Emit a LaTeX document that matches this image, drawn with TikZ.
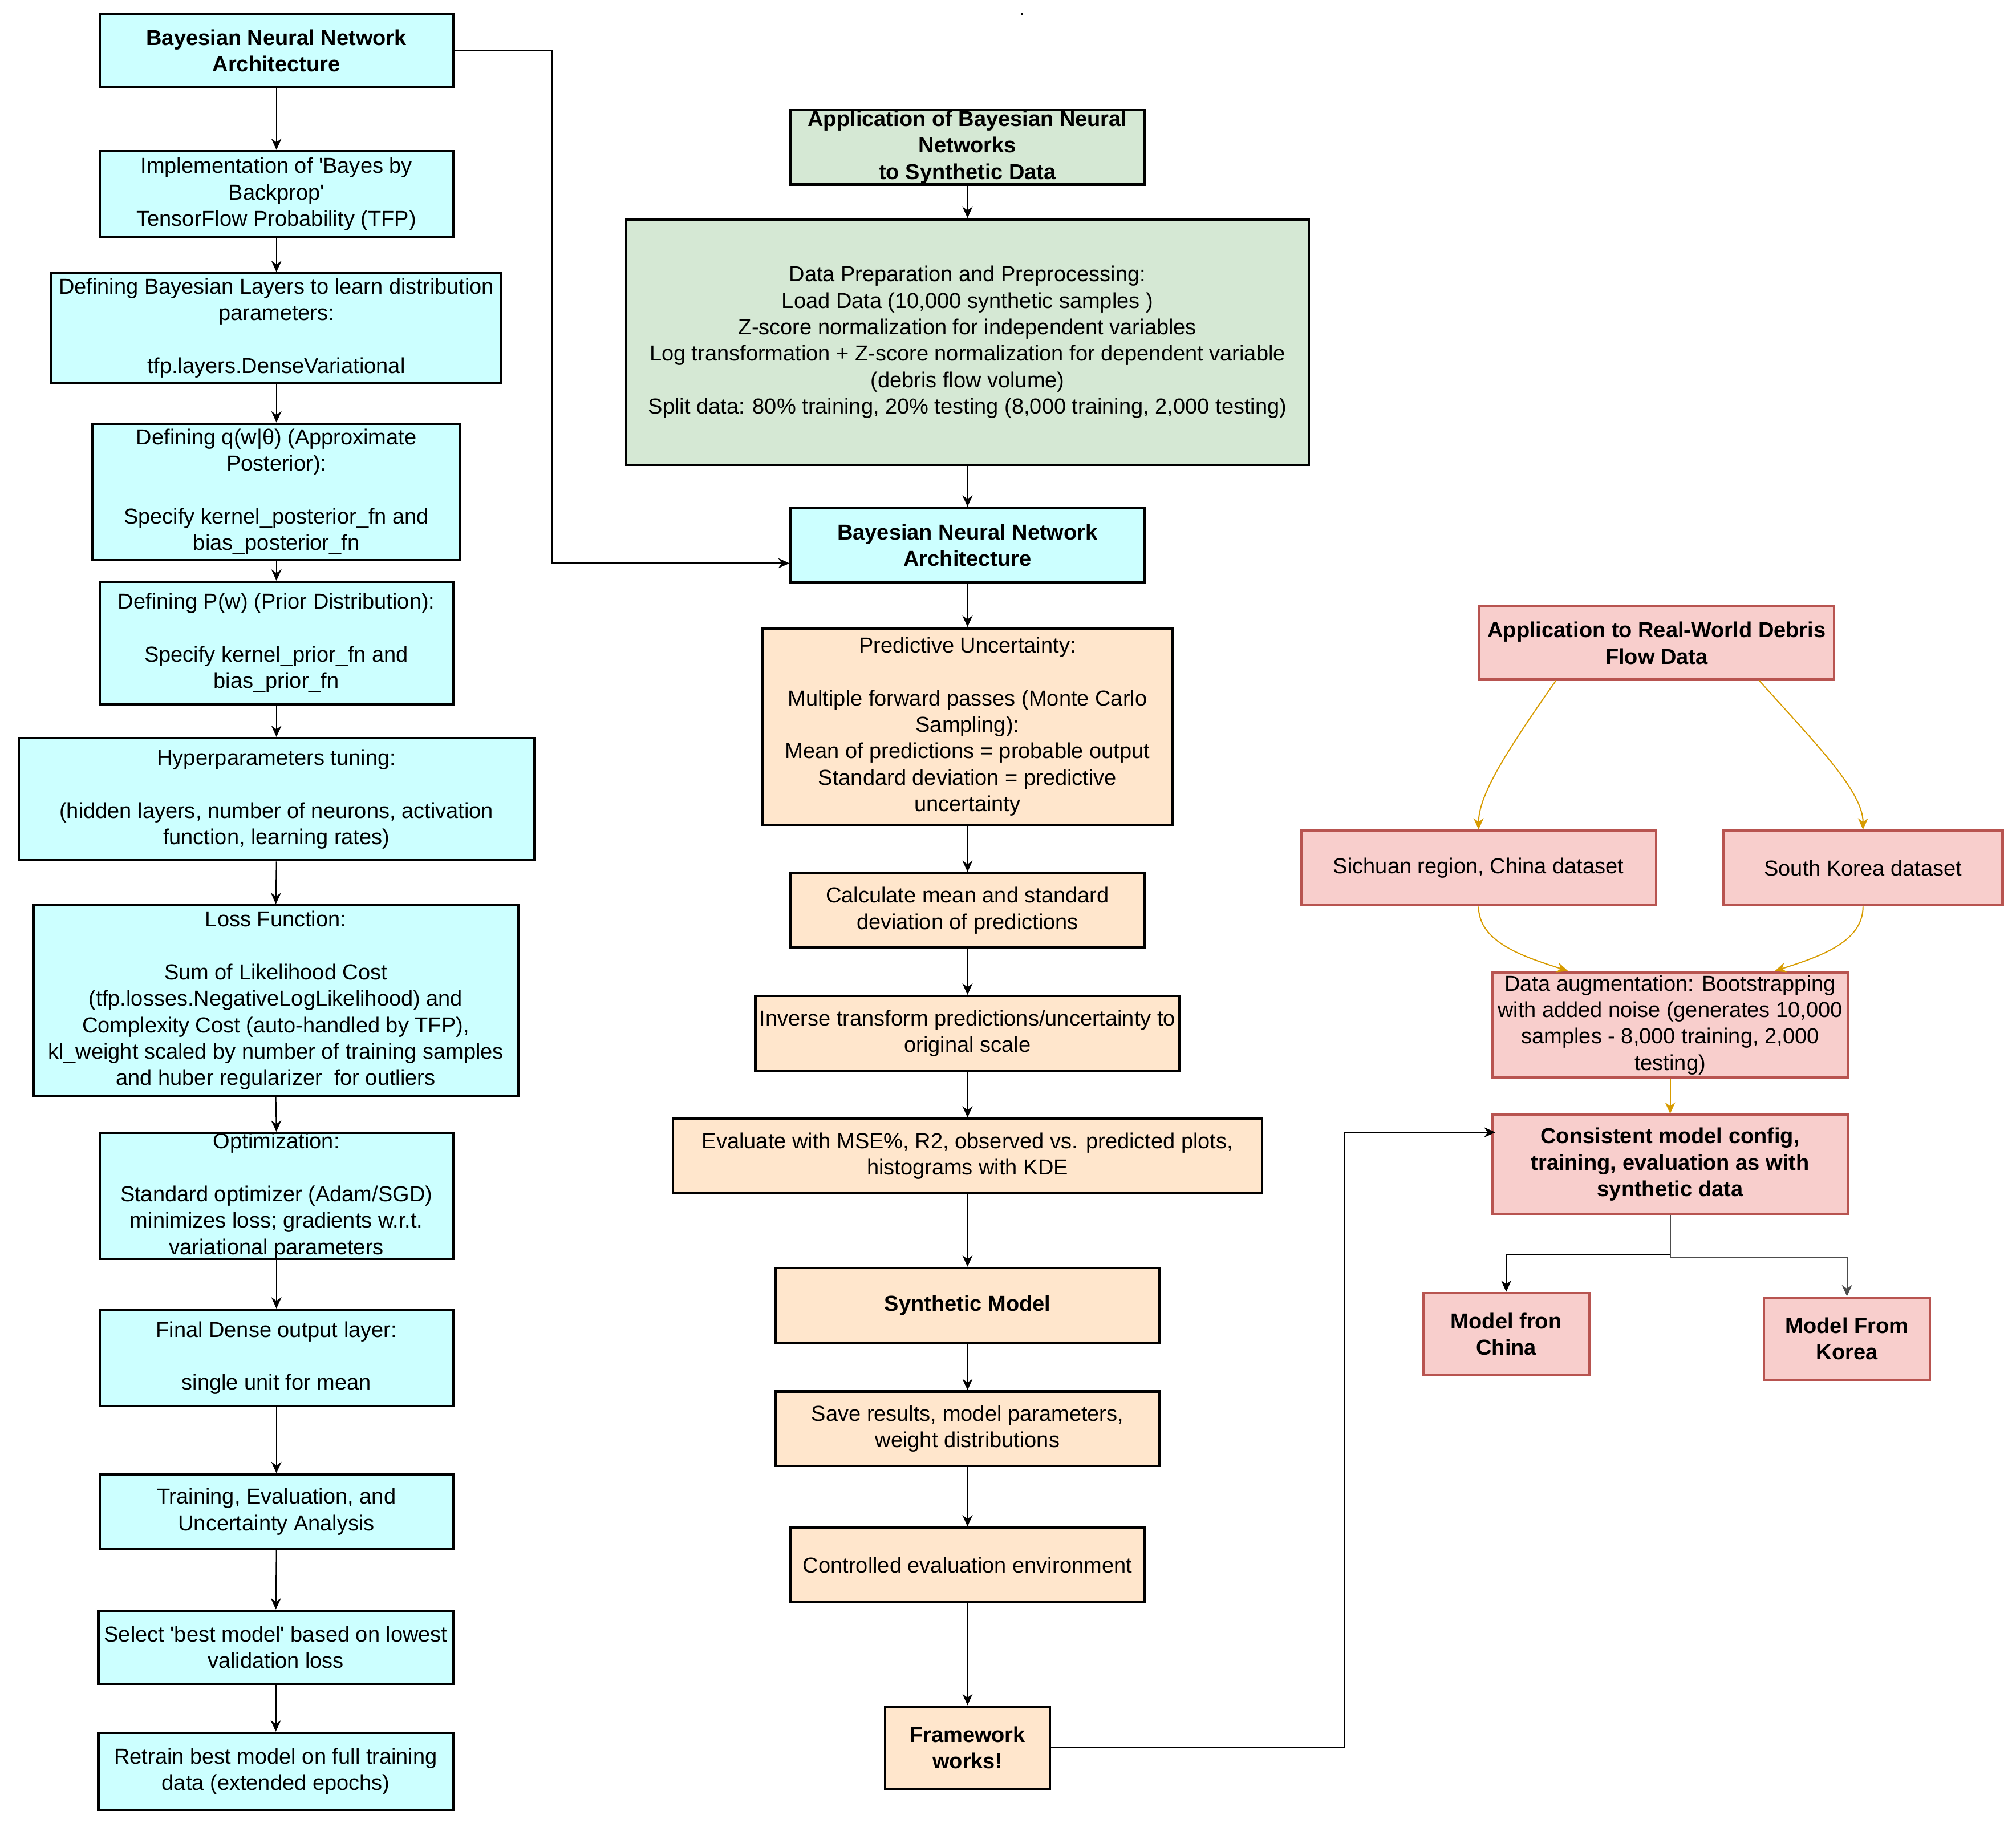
\documentclass[tikz,border=0pt]{standalone}
\usepackage{fontspec}
\setmainfont{Liberation Sans}
\usetikzlibrary{arrows.meta,positioning,calc}
\definecolor{bnncyan}{HTML}{CCFFFF}
\definecolor{syngreen}{HTML}{D5E8D4}
\definecolor{evalorange}{HTML}{FFE6CC}
\definecolor{realpink}{HTML}{F8CECC}
\definecolor{realred}{HTML}{B85450}
\definecolor{curvegold}{HTML}{D79B00}

\begin{document}
\begin{tikzpicture}[%
    x=0.02cm, y=-0.02cm,        % one unit is one pixel of the sketch, y runs downwards
    >={Stealth[length=5pt,width=4.5pt]},
    every node/.style={font={\fontsize{9.6}{11.7}\selectfont}},
    ]

\tikzset{
  base/.style={draw, line width=1.1pt, align=center, inner sep=0pt},
  wh/.style 2 args={minimum width=#1*0.02cm, minimum height=#2*0.02cm},
  cyanbox/.style={base, fill=bnncyan},
  greenbox/.style={base, fill=syngreen},
  orangebox/.style={base, fill=evalorange},
  pinkbox/.style={base, fill=realpink, draw=realred},
  bf/.style={font={\fontsize{9.6}{11.7}\selectfont\bfseries}},
  % -------------------------------------------------
  % Connector line styles
  norm/.style={->, draw, line width=0.5pt},
  gold/.style={->, draw=curvegold, line width=0.5pt}
}

  \useasboundingbox (0,0) rectangle (1568,1420.3);
  \fill (794,10) rectangle ++(1.4,1.4);

  % left column: the network itself
  \node[cyanbox, bf, wh={275}{57}] (bnn_left) at (215,39.5) {Bayesian Neural Network\\Architecture};
  \node[cyanbox, wh={275}{67}] (bayes_bp) at (215,151) {Implementation of \textquotesingle Bayes by\\Backprop\textquotesingle\\TensorFlow Probability (TFP)};
  \node[cyanbox, wh={350}{85}] (bayes_layers) at (215,255) {Defining Bayesian Layers to learn distribution\\parameters:\\[11.7pt]tfp.layers.DenseVariational};
  \node[cyanbox, wh={286}{106}] (posterior) at (215,382.5) {Defining q(w|θ) (Approximate\\Posterior):\\[11.7pt]Specify kernel\_posterior\_fn and\\bias\_posterior\_fn};
  \node[cyanbox, wh={275}{95}] (prior) at (215,500) {Defining P(w) (Prior Distribution):\\[11.7pt]Specify kernel\_prior\_fn and\\bias\_prior\_fn};
  \node[cyanbox, wh={401}{95}] (hyper) at (215,621.5) {Hyperparameters tuning:\\[11.7pt](hidden layers, number of neurons, activation\\function, learning rates)};
  \node[cyanbox, wh={377}{148}] (loss) at (214.5,778) {Loss Function:\\[11.7pt]Sum of Likelihood Cost\\(tfp.losses.NegativeLogLikelihood) and\\Complexity Cost (auto-handled by TFP),\\kl\_weight scaled by number of training samples\\and huber regularizer~ for outliers};
  \node[cyanbox, wh={275}{98}] (optim) at (215,930) {Optimization:\\[11.7pt]Standard optimizer (Adam/SGD)\\minimizes loss; gradients w.r.t.\\variational parameters};
  \node[cyanbox, wh={275}{75}] (dense_out) at (215,1056) {Final Dense output layer:\\[11.7pt]single unit for mean};
  \node[cyanbox, wh={275}{58}] (train_eval) at (215,1175.5) {Training, Evaluation, and\\Uncertainty Analysis};
  \node[cyanbox, wh={276}{57}] (select_best) at (214.5,1281) {Select \textquotesingle best model\textquotesingle{} based on lowest\\validation loss};
  \node[cyanbox, wh={276}{60}] (retrain) at (214.5,1377.5) {Retrain best model on full training\\data (extended epochs)};

  \foreach \a/\b in {bnn_left/bayes_bp, bayes_bp/bayes_layers, bayes_layers/posterior,
      posterior/prior, prior/hyper, hyper/loss, loss/optim, optim/dense_out,
      dense_out/train_eval, train_eval/select_best, select_best/retrain}
    \draw[norm] (\a.south) -- (\b.north);

  % middle column: synthetic data
  \node[greenbox, bf, wh={275}{58}] (synth_app) at (752.5,114.5) {Application of Bayesian Neural\\Networks\\to Synthetic Data};
  \node[greenbox, wh={531}{191}] (data_prep) at (752.5,266) {Data Preparation and Preprocessing:\\Load Data (10,000 synthetic samples )\\Z-score normalization for independent variables\\Log transformation + Z-score normalization for dependent variable\\(debris flow volume)\\Split data: 80\% training, 20\% testing (8,000 training, 2,000 testing)};
  \node[cyanbox, bf, wh={275}{58}] (bnn_mid) at (752.5,424) {Bayesian Neural Network\\Architecture};
  \node[orangebox, wh={319}{153}] (pred_unc) at (752.5,565) {Predictive Uncertainty:\\[11.7pt]Multiple forward passes (Monte Carlo\\Sampling):\\Mean of predictions = probable output\\Standard deviation = predictive\\uncertainty};
  \node[orangebox, wh={275}{58}] (calc_stats) at (752.5,708) {Calculate mean and standard\\deviation of predictions};
  \node[orangebox, wh={330}{58}] (inv_trans) at (752.5,803.5) {Inverse transform predictions/uncertainty to\\original scale};
  \node[orangebox, wh={458}{58}] (evaluate) at (752.5,899) {Evaluate with MSE\%, R2, observed vs. predicted plots,\\histograms with KDE};
  \node[orangebox, bf, wh={298}{58}] (synth_model) at (752.5,1015) {Synthetic Model};
  \node[orangebox, wh={298}{58}] (save_res) at (752.5,1111) {Save results, model parameters,\\weight distributions};
  \node[orangebox, wh={276}{58}] (controlled) at (752.5,1217) {Controlled evaluation environment};
  \node[orangebox, bf, wh={128}{64}] (works) at (752.5,1359) {Framework\\works!};

  \foreach \a/\b in {synth_app/data_prep, data_prep/bnn_mid, bnn_mid/pred_unc,
      pred_unc/calc_stats, calc_stats/inv_trans, inv_trans/evaluate,
      evaluate/synth_model, synth_model/save_res, save_res/controlled, controlled/works}
    \draw[norm] (\a.south) -- (\b.north);

  \coordinate (bnn_mid_in) at ($(bnn_mid.west)+(0,14)$);
  \draw[norm] (bnn_left.east) -- ++(76,0) |- (bnn_mid_in);

  % right column: real-world data
  \node[pinkbox, bf, wh={276}{57}] (real_app) at (1288.5,500) {Application to Real-World Debris\\Flow Data};
  \node[pinkbox, wh={276}{58}] (sichuan) at (1150,675) {Sichuan region, China dataset};
  \node[pinkbox, wh={217}{58}] (korea) at (1449,675) {South Korea dataset};
  \node[pinkbox, wh={276}{82}] (augment) at (1299,797) {Data augmentation: Bootstrapping\\with added noise (generates 10,000\\samples - 8,000 training, 2,000\\testing)};
  \node[pinkbox, bf, wh={276}{77}] (consistent) at (1299,905.5) {Consistent model config,\\training, evaluation as with\\synthetic data};
  \node[pinkbox, bf, wh={129}{64}] (china_model) at (1171.5,1037.5) {Model fron\\China};
  \node[pinkbox, bf, wh={129}{64}] (korea_model) at (1436.5,1041) {Model From\\Korea};

  \coordinate (app_out_l) at ($(real_app.south)+(-78.5,0)$);
  \coordinate (app_out_r) at ($(real_app.south)+(80,0)$);
  \coordinate (aug_in_l) at ($(augment.north)+(-79.5,0)$);
  \coordinate (aug_in_r) at ($(augment.north)+(81.5,0)$);
  \draw[gold] (app_out_l) .. controls +(-40,57) and +(0,-26) .. (sichuan.north);
  \draw[gold] (app_out_r) .. controls +(42,47) and +(0,-30) .. (korea.north);
  \draw[gold] (sichuan.south) .. controls +(0,28) and +(-34,-11) .. (aug_in_l);
  \draw[gold] (korea.south) .. controls +(0,28) and +(34,-11) .. (aug_in_r);
  \draw[gold] (augment.south) -- (consistent.north);

  \draw[norm] (consistent.south) -- ++(0,31) -| (china_model.north);
  \draw[norm, draw=black!70] (consistent.south) -- ++(0,33) -| (korea_model.north);

  \coordinate (cfg_in) at ($(consistent.north west)+(3,14.5)$);
  \draw[norm] (works.east) -- ++(228,0) |- (cfg_in);
\end{tikzpicture}
\end{document}
